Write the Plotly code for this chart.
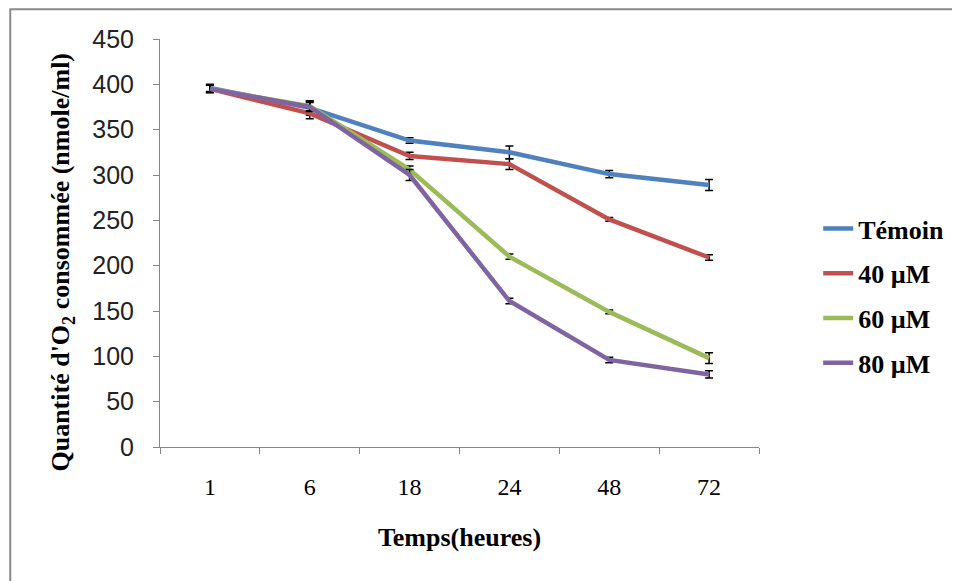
import plotly.graph_objects as go

temps = ["1", "6", "18", "24", "48", "72"]
series_names = ["Témoin", "40 µM", "60 µM", "80 µM"]
temoin = [396, 374, 338, 325, 301, 289]
c40 = [395, 368, 321, 312, 251, 209]
c60 = [395, 376, 306, 210, 149, 98]
c80 = [395, 375, 300, 161, 96, 80]
err_temoin = [4, 8, 3, 7, 4, 6]
err_40 = [4, 6, 4, 6, 2, 3]
err_60 = [4, 5, 4, 3, 2, 6]
err_80 = [4, 5, 6, 3, 3, 4]
colors = ["#4F81BD", "#C0504D", "#9BBB59", "#8064A2"]
y_title = "<b>Quantité d'O<sub>2</sub> consommée (nmole/ml)</b>"
x_title = "<b>Temps(heures)</b>"

values = [temoin, c40, c60, c80]
errs = [err_temoin, err_40, err_60, err_80]

fig = go.Figure()
for i, (name, vals, er) in enumerate(zip(series_names, values, errs)):
    fig.add_trace(go.Scatter(
        x=temps, y=vals, name=name, mode="lines",
        line=dict(color=colors[i], width=4.5),
        error_y=dict(type="data", array=er, visible=True, color="black",
                     thickness=1.5, width=4),
        legendgroup=str(i),
    ))

fig.update_layout(
    width=952, height=573,
    margin=dict(l=152, r=200, t=31, b=134),
    paper_bgcolor="white", plot_bgcolor="white",
    showlegend=True,
    legend=dict(x=1.097, y=0.593, xanchor="left", yanchor="top",
                font=dict(family="Liberation Serif", size=26, color="black",
                          weight="bold"),
                tracegroupgap=8, bgcolor="rgba(0,0,0,0)"),
    xaxis=dict(
        type="category", range=[-0.5, 5.5],
        showline=True, linecolor="#868686", linewidth=1,
        ticks="outside", tickson="boundaries", ticklen=6, tickcolor="#868686",
        showgrid=False, zeroline=False,
        tickfont=dict(family="Liberation Serif", size=24, color="black"),
        ticklabelstandoff=18,
        title=dict(text=x_title,
                   font=dict(family="Liberation Serif", size=26, color="black"),
                   standoff=29),
    ),
    yaxis=dict(
        range=[0, 450], dtick=50, tick0=0,
        showline=True, linecolor="#868686", linewidth=1,
        ticks="outside", ticklen=6, tickcolor="#868686",
        showgrid=False, zeroline=False,
        tickfont=dict(family="Liberation Sans", size=25, color="#222222"),
        ticklabelstandoff=14,
    ),
    annotations=[dict(text=y_title, xref="paper", yref="paper",
                      x=-0.163, y=0.453, xanchor="center", yanchor="middle",
                      textangle=-90, showarrow=False,
                      font=dict(family="Liberation Serif", size=26, color="black"))],
    shapes=[dict(type="rect", xref="paper", yref="paper",
                 x0=-0.25, x1=1.4, y0=-0.45, y1=1.073,
                 line=dict(color="#8a8a8a", width=2), layer="below")],
)

fig.write_html("out.html")
